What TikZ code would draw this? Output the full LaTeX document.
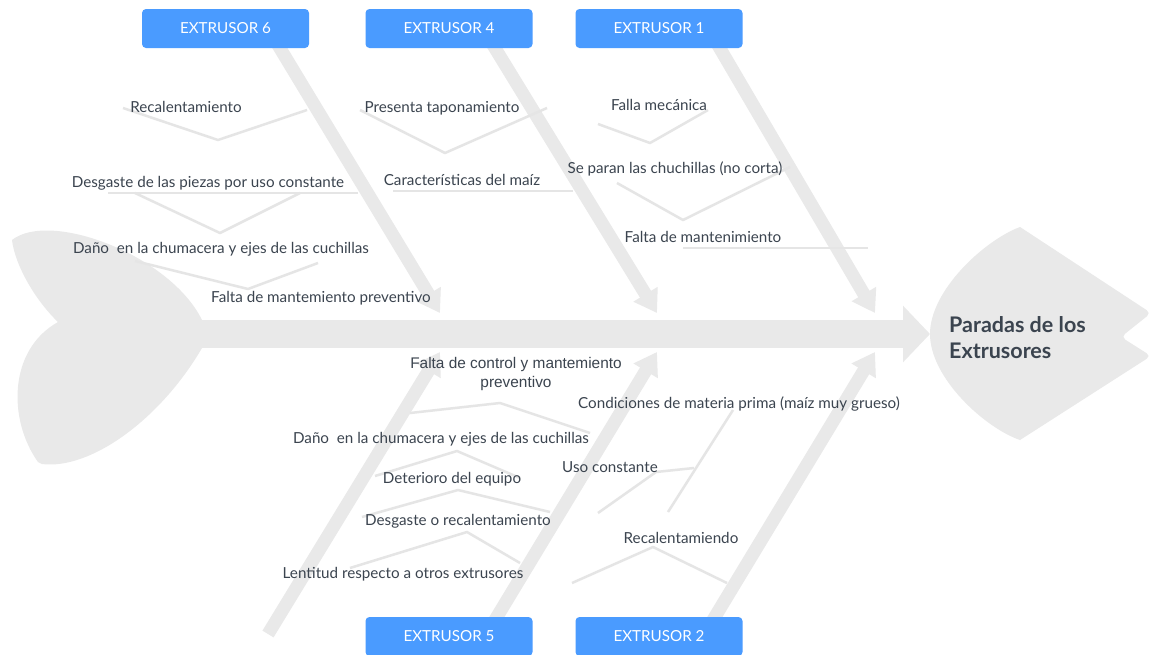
\documentclass[tikz,border=0pt]{standalone}
\usepackage{fontspec}
\setmainfont{Lato}
\newfontfamily\arialfont{Liberation Sans}
\usetikzlibrary{arrows.meta}

\definecolor{boneGray}{RGB}{233,233,233}
\definecolor{twigGray}{RGB}{229,229,229}
\definecolor{boxBlue}{RGB}{74,155,255}
\definecolor{textSlate}{RGB}{59,68,79}

\begin{document}
\begin{tikzpicture}[
  x=1pt, y=-1pt,
  font=\fontsize{15.2}{18}\selectfont,
  spine/.style={draw=boneGray, line width=28pt, -{Triangle[length=27pt, width=55pt]}},
  bone/.style={draw=boneGray, line width=13pt, -{Triangle[length=22pt, width=27pt]}},
  twig/.style={draw=twigGray, line width=2.5pt, line join=round},
  cause/.style={text=textSlate, anchor=base, inner sep=0pt},
  extrusor/.style={fill=boxBlue, rounded corners=4pt, text=white, minimum width=167pt, minimum height=39pt, inner sep=0pt}
]
  \useasboundingbox (0,0) rectangle (1153,654);
  \clip (0,0) rectangle (1153,654);
  \fill[white] (0,0) rectangle (1153,654);

  % tail and head of the fish
  \fill[boneGray] (12,240) .. controls (50,210) and (170,255) .. (202,320) -- (202,348)
    .. controls (160,420) and (90,470) .. (42,464) -- (38,462)
    .. controls (8,420) and (8,350) .. (58,322)
    .. controls (35,300) and (15,265) .. (12,240) -- cycle;
  \fill[boneGray] (930,334) .. controls (930,290) and (985,240) .. (1020,227)
    [rounded corners=5pt] -- (1151,313) -- (1121,337) -- (1151,356) [sharp corners] -- (1020,440)
    .. controls (985,428) and (930,378) .. (930,334) -- cycle;

  \coordinate (tailjoint) at (200,334);
  \coordinate (headtip) at (930,334);
  \draw[spine] (tailjoint) -- (headtip);

  \foreach \n/\sx/\sy/\tx/\ty in {6/275/40/440/313, 4/490/40/657/313, 1/715/40/875/313,
                                  0/268/634/440/352, 5/492/625/657/352, 2/710/625/875/352} {
    \coordinate (bone\n start) at (\sx,\sy);
    \coordinate (bone\n tip) at (\tx,\ty);
    \draw[bone] (bone\n start) -- (bone\n tip);
  }

  % secondary causes
  \draw[twig] (123,108) -- (218,140) -- (307,110);
  \draw[twig] (108,193) -- (358,193);
  \draw[twig] (135,193) -- (220,233) -- (300,193);
  \draw[twig] (135,261) -- (248,289) -- (318,263);
  \draw[twig] (360,110) -- (445,153) -- (547,108);
  \draw[twig] (393,191) -- (573,191);
  \draw[twig] (598,124) -- (650,143) -- (708,110);
  \draw[twig] (617,183) -- (683,220) -- (790,167);
  \draw[twig] (683,248) -- (868,248);
  \draw[twig] (410,413) -- (500,403) -- (590,433);
  \draw[twig] (375,476) -- (457,451) -- (520,478);
  \draw[twig] (362,517) -- (458,490) -- (550,512);
  \draw[twig] (350,568) -- (467,532) -- (520,563);
  \draw[twig] (733,410) -- (668,512);
  \draw[twig] (598,513) -- (656,472) -- (694,468);
  \draw[twig] (572,583) -- (653,547) -- (727,583);

  \node[cause] (e6a) at (186,112) {Recalentamiento};
  \node[cause] (e6b) at (208,187) {Desgaste de las piezas por uso constante};
  \node[cause] (e6c) at (221,253) {Daño~ en la chumacera y ejes de las cuchillas};
  \node[cause] (e6d) at (321,302) {Falta de mantemiento preventivo};
  \node[cause] (e4a) at (442,112) {Presenta taponamiento};
  \node[cause] (e4b) at (462,185) {Características del maíz};
  \node[cause] (e1a) at (659,110) {Falla mecánica};
  \node[cause] (e1b) at (675,173) {Se paran las chuchillas (no corta)};
  \node[cause] (e1c) at (703,242) {Falta de mantenimiento};
  \node[cause, anchor=center, align=center, font=\arialfont\fontsize{15.4}{19}\selectfont] (e0a) at (516,374)
    {Falta de control y mantemiento\\preventivo};
  \node[cause] (e0b) at (441,443) {Daño~ en la chumacera y ejes de las cuchillas};
  \node[cause] (e0c) at (452,483) {Deterioro del equipo};
  \node[cause] (e0d) at (458,525) {Desgaste o recalentamiento};
  \node[cause] (e0e) at (403,578) {Lentitud respecto a otros extrusores};
  \node[cause] (e5a) at (739,408) {Condiciones de materia prima (maíz muy grueso)};
  \node[cause] (e5b) at (610,472) {Uso constante};
  \node[cause] (e2a) at (681,543) {Recalentamiendo};

  \node[text=textSlate, anchor=west, align=left, inner sep=0pt, font=\bfseries\fontsize{21.5}{26}\selectfont]
    (problem) at (949,338) {Paradas de los\\Extrusores};

  \node[extrusor] (extrusor6) at (225.5,28.5) {EXTRUSOR 6};
  \node[extrusor] (extrusor4) at (449,28.5) {EXTRUSOR 4};
  \node[extrusor] (extrusor1) at (659,28.5) {EXTRUSOR 1};
  \node[extrusor] (extrusor5) at (449,636.5) {EXTRUSOR 5};
  \node[extrusor] (extrusor2) at (659,636.5) {EXTRUSOR 2};
\end{tikzpicture}
\end{document}
